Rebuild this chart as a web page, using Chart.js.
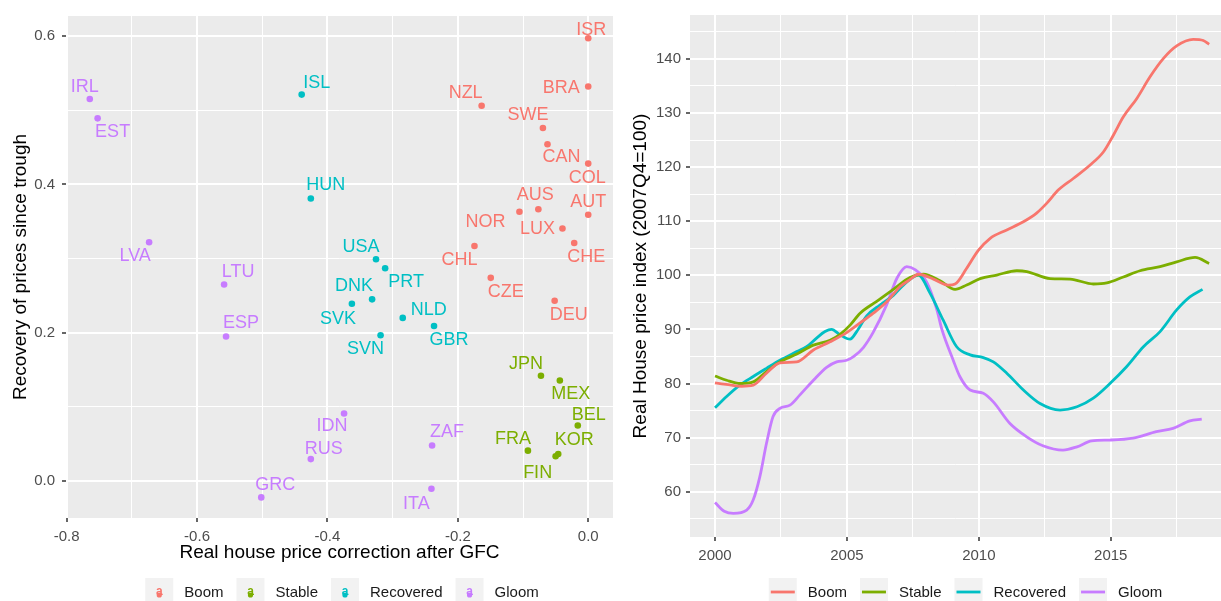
<!DOCTYPE html>
<html><head><meta charset="utf-8">
<script src="https://cdn.jsdelivr.net/npm/chart.js@4"></script>
<style>
html,body{margin:0;padding:0;background:#fff;overflow:hidden;}
#wrap{position:relative;width:1221px;height:601px;}
canvas{position:absolute;top:0;}
#c1{left:0;} #c2{left:620px;}
</style></head><body>
<div id="wrap"><canvas id="c1" width="620" height="601"></canvas><canvas id="c2" width="601" height="601"></canvas></div>
<script>
// ---------- DATA ----------
const groups = ['Boom', 'Stable', 'Recovered', 'Gloom'];
const colors = ['#F8766D', '#7CAE00', '#00BFC4', '#C77CFF'];

// Scatter: real house price correction after GFC (x) vs recovery since trough (y)
const boomCountries = ['ISR','BRA','NZL','SWE','CAN','COL','NOR','AUS','AUT','LUX','CHE','CHL','CZE','DEU'];
const boomCorrection = [0.0, 0.0, -0.1635, -0.0695, -0.0625, 0.0, -0.1055, -0.0765, 0.0, -0.0395, -0.0215, -0.1745, -0.1495, -0.0515];
const boomRecovery = [0.597, 0.532, 0.506, 0.476, 0.454, 0.428, 0.363, 0.3665, 0.359, 0.3405, 0.321, 0.317, 0.274, 0.243];

const stableCountries = ['JPN','MEX','BEL','FRA','KOR','FIN'];
const stableCorrection = [-0.0725, -0.0435, -0.016, -0.0925, -0.046, -0.050];
const stableRecovery = [0.142, 0.1355, 0.075, 0.041, 0.0365, 0.0335];

const recoveredCountries = ['ISL','HUN','USA','PRT','DNK','SVK','NLD','GBR','SVN'];
const recoveredCorrection = [-0.4395, -0.4255, -0.3255, -0.3115, -0.3315, -0.3625, -0.2845, -0.2365, -0.3185];
const recoveredRecovery = [0.521, 0.381, 0.299, 0.287, 0.245, 0.239, 0.220, 0.209, 0.1965];

const gloomCountries = ['IRL','EST','LVA','LTU','ESP','GRC','RUS','IDN','ZAF','ITA'];
const gloomCorrection = [-0.7645, -0.7525, -0.6735, -0.5585, -0.5555, -0.5015, -0.4255, -0.3745, -0.2395, -0.2405];
const gloomRecovery = [0.515, 0.489, 0.322, 0.265, 0.195, -0.022, 0.0296, 0.091, 0.048, -0.0104];

const scatterXMajor = [-0.8, -0.6, -0.4, -0.2, 0.0];
const scatterXLabels = ['-0.8', '-0.6', '-0.4', '-0.2', '0.0'];
const scatterXMinor = [-0.7, -0.5, -0.3, -0.1];
const scatterYMajor = [0.0, 0.2, 0.4, 0.6];
const scatterYLabels = ['0.0', '0.2', '0.4', '0.6'];
const scatterYMinor = [0.1, 0.3, 0.5];

// Lines: real house price index (2007Q4=100)
const boomYears = [2000, 2000.5, 2001, 2001.45, 2001.95, 2002.46, 2003.1, 2003.73, 2004.36, 2004.99, 2005.5, 2006, 2006.51, 2007.01, 2007.39, 2007.71, 2008.28, 2008.85, 2009.1, 2009.54, 2009.98, 2010.42, 2011.06, 2011.69, 2012.19, 2012.57, 2013.02, 2013.58, 2014.22, 2014.72, 2015.1, 2015.48, 2015.99, 2016.49, 2017, 2017.5, 2018.13, 2018.51, 2018.73];
const boomIndex = [80.1, 79.8, 79.5, 79.7, 81.9, 83.8, 84.0, 86.2, 87.7, 89.4, 91.2, 93.0, 95.1, 97.9, 99.2, 100.2, 99.3, 98.2, 98.4, 101.3, 104.6, 106.8, 108.4, 109.9, 111.5, 113.3, 115.8, 117.9, 120.4, 122.8, 125.9, 129.3, 132.7, 136.7, 140.1, 142.4, 143.6, 143.4, 142.7];

const stableYears = [2000, 2000.44, 2000.95, 2001.45, 2001.95, 2002.46, 2003.1, 2003.73, 2004.36, 2004.74, 2005.12, 2005.5, 2006.13, 2006.76, 2007.39, 2007.9, 2008.53, 2009.1, 2009.54, 2010.05, 2010.68, 2011.44, 2011.82, 2012.7, 2013.46, 2014.34, 2014.85, 2015.48, 2016.11, 2016.87, 2017.5, 2018.2, 2018.73];
const stableIndex = [81.4, 80.6, 80.0, 80.3, 82.2, 84.0, 85.45, 87.1, 88.0, 89.1, 90.8, 93.0, 95.2, 97.4, 99.6, 100.2, 99.0, 97.4, 98.2, 99.4, 100.05, 100.85, 100.7, 99.4, 99.3, 98.4, 98.6, 99.7, 100.85, 101.6, 102.5, 103.3, 102.2];

const recoveredYears = [2000, 2000.44, 2000.94, 2001.45, 2001.95, 2002.46, 2003.1, 2003.47, 2003.85, 2004.17, 2004.42, 2004.74, 2005.12, 2005.37, 2005.75, 2006.25, 2006.76, 2007.14, 2007.71, 2008.15, 2008.65, 2009.16, 2009.67, 2010.17, 2010.55, 2011.06, 2011.69, 2012.32, 2013.08, 2013.72, 2014.34, 2014.97, 2015.6, 2016.24, 2016.87, 2017.5, 2018, 2018.48];
const recoveredIndex = [75.5, 77.6, 79.7, 81.3, 82.8, 84.3, 85.9, 86.8, 88.4, 89.6, 90.0, 89.0, 88.2, 89.6, 92.5, 94.5, 96.3, 98.2, 100.05, 96.7, 91.7, 86.8, 85.3, 84.8, 84.0, 81.9, 78.8, 76.3, 75.1, 75.7, 77.3, 80.0, 83.1, 86.8, 89.6, 93.6, 96.0, 97.4];

const gloomYears = [2000, 2000.35, 2000.7, 2001.2, 2001.45, 2001.7, 2001.95, 2002.2, 2002.46, 2002.84, 2003.22, 2003.73, 2004.23, 2004.61, 2004.99, 2005.25, 2005.63, 2006.0, 2006.5, 2006.9, 2007.27, 2007.6, 2008.02, 2008.4, 2008.6, 2009.03, 2009.28, 2009.67, 2010.17, 2010.55, 2011.18, 2011.8, 2012.43, 2013.19, 2013.72, 2014.28, 2014.97, 2015.85, 2016.73, 2017.36, 2018, 2018.45];
const gloomIndex = [58.0, 56.4, 56.0, 56.6, 58.5, 62.8, 68.9, 73.9, 75.4, 76.0, 77.9, 80.6, 83.0, 84.0, 84.3, 84.95, 86.7, 89.5, 94.5, 99.5, 101.6, 101.0, 98.8, 93.8, 90.0, 84.3, 81.3, 78.8, 78.2, 76.6, 72.6, 70.2, 68.5, 67.7, 68.3, 69.4, 69.55, 69.9, 71.1, 71.7, 73.1, 73.4];

const lineXMajor = [2000, 2005, 2010, 2015];
const lineXLabels = ['2000', '2005', '2010', '2015'];
const lineXMinor = [2002.5, 2007.5, 2012.5, 2017.5];
const lineYMajor = [60, 70, 80, 90, 100, 110, 120, 130, 140];
const lineYLabels = ['60', '70', '80', '90', '100', '110', '120', '130', '140'];
const lineYMinor = [55, 65, 75, 85, 95, 105, 115, 125, 135, 145];

// label placement (pixel offsets from each point, mimicking the repelled labels)
const labelOffset = {
  ISR:[3,-8], BRA:[-27,2], NZL:[-16,-13], SWE:[-15,-13], CAN:[14,13], COL:[-1,14], NOR:[-34,10], AUS:[-3,-14],
  AUT:[0,-13], LUX:[-25,1], CHE:[12,14], CHL:[-15,14], CZE:[15,14], DEU:[14,14],
  JPN:[-15,-12], MEX:[11,13], BEL:[11,-10], FRA:[-15,-12], KOR:[16,-14], FIN:[-18,17],
  ISL:[15,-12], HUN:[15,-13], USA:[-15,-12], PRT:[21,14], DNK:[-18,-13], SVK:[-14,15], NLD:[26,-8], GBR:[15,14], SVN:[-15,14],
  IRL:[-5,-12], EST:[15,14], LVA:[-14,14], LTU:[14,-12], ESP:[15,-13], GRC:[14,-12], RUS:[13,-10], IDN:[-12,12], ZAF:[15,-13], ITA:[-15,15]
};

// ---------- HELPERS ----------
const FONT = "'Liberation Sans', Arial, Helvetica, sans-serif";
Chart.defaults.font.family = FONT;
function pts(xs, ys) { return xs.map((x, i) => ({ x: x, y: ys[i] })); }
function near(a, b) { return Math.abs(a - b) < 1e-6; }
function isIn(arr, v) { return arr.some(m => near(m, v)); }
function labelFor(major, labels, v) { const i = major.findIndex(m => near(m, v)); return i >= 0 ? labels[i] : ''; }

function gridScale(major, minor, labels, pad, extra) {
  const all = major.concat(minor).sort((a, b) => a - b);
  return Object.assign({
    type: 'linear',
    afterBuildTicks: s => { s.ticks = all.map(v => ({ value: v })); },
    ticks: { autoSkip: false, maxRotation: 0, padding: pad, color: '#4D4D4D', font: { size: 15 },
      callback: v => labelFor(major, labels, v) },
    grid: {
      color: '#FFFFFF',
      lineWidth: c => (c.tick && isIn(major, c.tick.value)) ? 2 : 1,
      tickColor: c => (c.tick && isIn(major, c.tick.value)) ? '#333333' : 'rgba(0,0,0,0)',
      tickLength: 4, tickWidth: 1.5, drawTicks: true
    },
    border: { display: false }
  }, extra);
}

const panelBg = {
  id: 'panelBg',
  beforeDraw(chart) {
    const { ctx, chartArea: a } = chart;
    ctx.save(); ctx.fillStyle = '#EBEBEB';
    ctx.fillRect(a.left, a.top, a.right - a.left, a.bottom - a.top);
    ctx.restore();
  }
};

function drawLegend(chart, kind, cx) {
  const ctx = chart.ctx;
  ctx.save();
  ctx.font = '15px ' + FONT;
  const keyW = 28, gap = 11, spacing = 13, top = 578, cy = 593;
  const widths = groups.map(g => ctx.measureText(g).width);
  const total = widths.reduce((s, w) => s + keyW + gap + w, 0) + spacing * (groups.length - 1);
  let x = cx - total / 2;
  groups.forEach((g, i) => {
    ctx.fillStyle = '#F2F2F2';
    ctx.fillRect(x, top, keyW, 30);
    if (kind === 'point') {
      ctx.fillStyle = colors[i];
      ctx.font = 'bold 12px ' + FONT;
      ctx.textAlign = 'center'; ctx.textBaseline = 'middle';
      ctx.fillText('a', x + keyW / 2, cy - 1);
      ctx.beginPath(); ctx.arc(x + keyW / 2, cy + 2, 2.6, 0, Math.PI * 2); ctx.fill();
      ctx.font = '15px ' + FONT;
    } else {
      ctx.strokeStyle = colors[i]; ctx.lineWidth = 2.8;
      ctx.beginPath(); ctx.moveTo(x + 2, cy - 1); ctx.lineTo(x + keyW - 2, cy - 1); ctx.stroke();
    }
    ctx.fillStyle = '#1A1A1A'; ctx.textAlign = 'left'; ctx.textBaseline = 'middle';
    ctx.fillText(g, x + keyW + gap, cy);
    x += keyW + gap + widths[i] + spacing;
  });
  ctx.restore();
}

const pointLabels = {
  id: 'pointLabels',
  afterDatasetsDraw(chart) {
    const ctx = chart.ctx;
    ctx.save();
    ctx.font = '18px ' + FONT;
    ctx.textAlign = 'center'; ctx.textBaseline = 'middle';
    chart.data.datasets.forEach((ds, di) => {
      const meta = chart.getDatasetMeta(di);
      ctx.fillStyle = ds.backgroundColor;
      meta.data.forEach((el, j) => {
        const code = ds.codes[j];
        const off = labelOffset[code] || [0, -12];
        ctx.fillText(code, el.x + off[0], el.y + off[1]);
      });
    });
    ctx.restore();
  }
};

// ---------- LEFT: scatter ----------
const scatterSets = [
  [boomCountries, boomCorrection, boomRecovery],
  [stableCountries, stableCorrection, stableRecovery],
  [recoveredCountries, recoveredCorrection, recoveredRecovery],
  [gloomCountries, gloomCorrection, gloomRecovery]
];
new Chart(document.getElementById('c1'), {
  type: 'scatter',
  data: {
    datasets: scatterSets.map((s, i) => ({
      label: groups[i], codes: s[0], data: pts(s[1], s[2]),
      backgroundColor: colors[i], borderWidth: 0, pointRadius: 3.3, pointHoverRadius: 3.3
    }))
  },
  options: {
    responsive: false, animation: false, events: [],
    layout: { padding: { left: 0, top: 15, right: 7, bottom: 37 } },
    plugins: { legend: { display: false }, tooltip: { enabled: false } },
    scales: {
      x: gridScale(scatterXMajor, scatterXMinor, scatterXLabels, 6, {
        min: -0.801, max: 0.038, position: 'bottom',
        afterFit: s => { s.height = 46; },
        title: { display: true, text: 'Real house price correction after GFC', color: '#000', font: { size: 19 }, padding: { top: 0, bottom: 0 } }
      }),
      y: gridScale(scatterYMajor, scatterYMinor, scatterYLabels, 7, {
        min: -0.0498, max: 0.627, position: 'left',
        afterFit: s => { s.width = 66; },
        title: { display: true, text: 'Recovery of prices since trough', color: '#000', font: { size: 19 }, padding: { top: 9, bottom: 0 } }
      })
    }
  },
  plugins: [panelBg, pointLabels, { id: 'leg1', afterDraw: c => drawLegend(c, 'point', 342) }]
});

// ---------- RIGHT: lines ----------
const lineSets = [[boomYears, boomIndex], [stableYears, stableIndex], [recoveredYears, recoveredIndex], [gloomYears, gloomIndex]];
new Chart(document.getElementById('c2'), {
  type: 'line',
  data: {
    datasets: lineSets.map((s, i) => ({
      label: groups[i], data: pts(s[0], s[1]),
      borderColor: colors[i], backgroundColor: colors[i], borderWidth: 2.8,
      pointRadius: 0, fill: false, cubicInterpolationMode: 'monotone'
    }))
  },
  options: {
    responsive: false, animation: false, events: [],
    layout: { padding: { left: 0, top: 15, right: 0, bottom: 24 } },
    plugins: { legend: { display: false }, tooltip: { enabled: false } },
    scales: {
      x: gridScale(lineXMajor, lineXMinor, lineXLabels, 6, {
        min: 1999.052, max: 2019.18, position: 'bottom',
        afterFit: s => { s.height = 40; }
      }),
      y: gridScale(lineYMajor, lineYMinor, lineYLabels, 5, {
        min: 51.63, max: 148.12, position: 'left',
        afterFit: s => { s.width = 70; },
        title: { display: true, text: 'Real House price index (2007Q4=100)', color: '#000', font: { size: 19 }, padding: { top: 9.5, bottom: 0 } }
      })
    }
  },
  plugins: [panelBg, { id: 'leg2', afterDraw: c => drawLegend(c, 'line', 345.5) }]
});
</script>
</body></html>
